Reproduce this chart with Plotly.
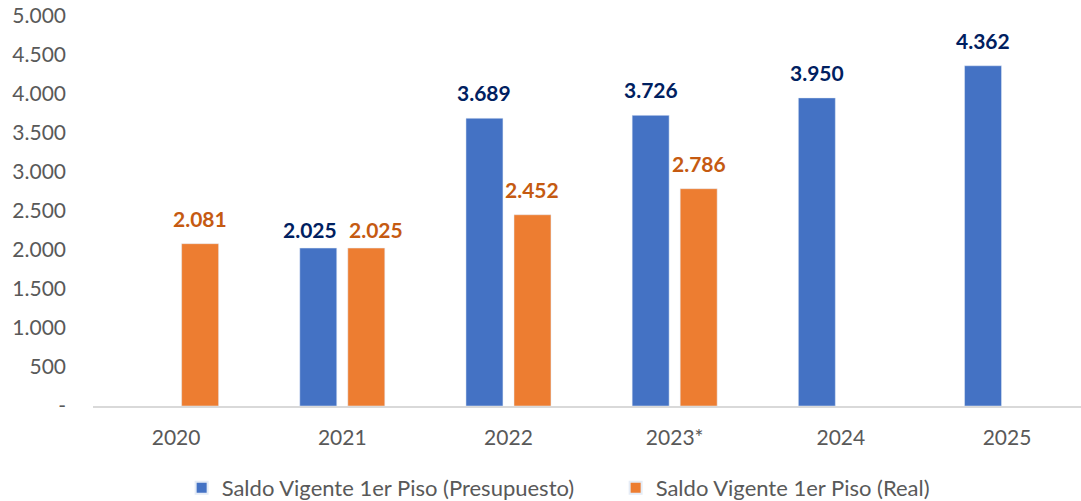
import plotly.graph_objects as go

categories = ["2020", "2021", "2022", "2023*", "2024", "2025"]
presupuesto = [None, 2025, 3689, 3726, 3950, 4362]
real = [2081, 2025, 2452, 2786, None, None]
tick_vals = [0, 500, 1000, 1500, 2000, 2500, 3000, 3500, 4000, 4500, 5000]
tick_text = ["-", "500", "1.000", "1.500", "2.000", "2.500", "3.000", "3.500", "4.000", "4.500", "5.000"]

def fmt(v):
    return "" if v is None else f"{v:,}".replace(",", ".")

FONT = "Lato, 'Open Sans', sans-serif"
BLUE, ORANGE = "#4472C4", "#ED7D31"
BLUE_TXT, ORANGE_TXT = "#002060", "#C55A11"
GROUP_SHIFT = 24          # px offset of each bar from category centre
LABEL_GAP = 11            # px between bar top and label
# label nudges (dx, dy) as placed in the source chart
LABEL_NUDGE = {("p", "2021"): (-8, -7), ("r", "2021"): (10, -7)}

fig = go.Figure()
fig.add_trace(go.Bar(x=categories, y=presupuesto, name="Saldo Vigente 1er Piso (Presupuesto)",
                     marker=dict(color=BLUE)))
fig.add_trace(go.Bar(x=categories, y=real, name="Saldo Vigente 1er Piso (Real)",
                     marker=dict(color=ORANGE)))

annotations = []
for key, vals, sign, col in (("p", presupuesto, -1, BLUE_TXT), ("r", real, 1, ORANGE_TXT)):
    for i, (c, v) in enumerate(zip(categories, vals)):
        if v is None:
            continue
        dx, dy = LABEL_NUDGE.get((key, c), (0, 0))
        annotations.append(dict(
            x=i, y=v, xref="x", yref="y", text=fmt(v), showarrow=False,
            xanchor="center", yanchor="bottom", yshift=LABEL_GAP + dy,
            xshift=sign * GROUP_SHIFT + dx,
            font=dict(color=col, size=21, family=FONT, weight="bold"),
        ))

fig.update_layout(
    width=1081, height=501,
    margin=dict(l=93, r=0, t=16, b=95, autoexpand=False),
    paper_bgcolor="white", plot_bgcolor="white",
    barmode="group", bargap=0.422, bargroupgap=0.23,
    font=dict(family=FONT, size=21, color="#595959"),
    showlegend=True,
    legend=dict(orientation="h", xref="paper", x=0.529, xanchor="center",
                yref="container", y=0.026, yanchor="middle",
                font=dict(size=22, color="#595959", family=FONT),
                itemsizing="constant", traceorder="normal", entrywidth=389),
    annotations=annotations,
)
fig.update_xaxes(
    type="category", range=[-0.5, 5.445], automargin=False,
    showline=True, linecolor="#D9D9D9", linewidth=2,
    showgrid=False, ticks="", tickfont=dict(size=21, color="#595959"),
    ticklabelstandoff=12,
)
fig.update_yaxes(
    range=[0, 5000], tickvals=tick_vals, ticktext=tick_text, automargin=False,
    showgrid=False, zeroline=False, showline=False, ticks="",
    tickfont=dict(size=21, color="#595959"), ticklabelstandoff=26,
)

fig.write_html("out.html", config={"displayModeBar": False},
               post_script="document.body.style.margin='0px';")
